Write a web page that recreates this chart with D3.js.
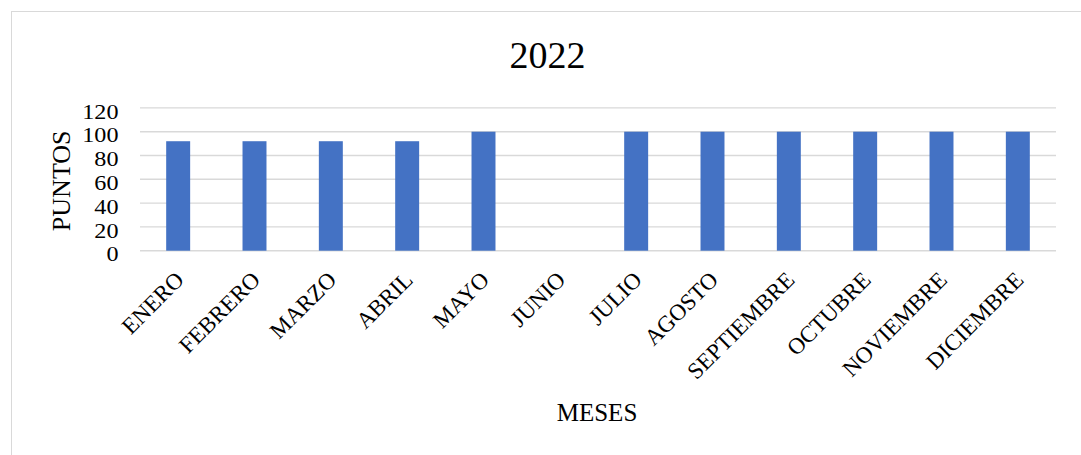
<!DOCTYPE html>
<html>
<head>
<meta charset="utf-8">
<script src="https://cdn.jsdelivr.net/npm/d3@7"></script>
<style>
  html, body { margin: 0; padding: 0; background: #fff; }
  svg { display: block; }
  text { font-family: "Times New Roman", "Liberation Serif", serif; fill: #000; }
</style>
</head>
<body>
<script>
// Monthly scores for 2022
const months = ["ENERO", "FEBRERO", "MARZO", "ABRIL", "MAYO", "JUNIO",
                "JULIO", "AGOSTO", "SEPTIEMBRE", "OCTUBRE", "NOVIEMBRE", "DICIEMBRE"];
const puntos = [92, 92, 92, 92, 100, 0, 100, 100, 100, 100, 100, 100];
const yTicks = [0, 20, 40, 60, 80, 100, 120];
const chartTitle = "2022";
const xTitle = "MESES";
const yTitle = "PUNTOS";

const W = 1081, H = 455;
const plot = { left: 140, right: 1056, top: 107.9, bottom: 250.7 };
const serif = '"Times New Roman", "Liberation Serif", serif';

const svg = d3.select("body").append("svg")
  .attr("width", W).attr("height", H);

// chart frame
svg.append("rect")
  .attr("x", 11.5).attr("y", 11.5)
  .attr("width", 1072).attr("height", 460)
  .attr("fill", "#fff").attr("stroke", "#d9d9d9").attr("stroke-width", 1);

const x = d3.scaleBand().domain(months)
  .range([plot.left, plot.right]).paddingInner(0.686).paddingOuter(0.343);
const y = d3.scaleLinear().domain([0, 120]).range([plot.bottom, plot.top]);

// horizontal gridlines
svg.append("g").selectAll("line").data(yTicks).join("line")
  .attr("x1", plot.left).attr("x2", plot.right)
  .attr("y1", d => y(d)).attr("y2", d => y(d))
  .attr("stroke", "#d9d9d9").attr("stroke-width", 1.4);

// y axis labels (slightly widened serif digits)
const yAxis = d3.axisLeft(y).tickValues(yTicks).tickSize(0).tickPadding(0);
const gy = svg.append("g").attr("transform", `translate(${plot.left - 21.5},0)`).call(yAxis);
gy.select(".domain").remove();
gy.selectAll(".tick text")
  .style("font-family", serif)
  .style("font-size", "21px").attr("fill", "#000")
  .attr("x", 0).attr("y", 3.5)
  .attr("text-anchor", "end")
  .attr("transform", "scale(1.15,1)");

// bars
svg.append("g").selectAll("rect").data(months).join("rect")
  .attr("x", d => x(d))
  .attr("width", x.bandwidth())
  .attr("y", (d, i) => y(puntos[i]))
  .attr("height", (d, i) => y(0) - y(puntos[i]))
  .attr("fill", "#4472c4");

// x axis labels, rotated
const xAxis = d3.axisBottom(x).tickSize(0).tickPadding(0);
const gx = svg.append("g").attr("transform", `translate(0,${plot.bottom})`).call(xAxis);
gx.select(".domain").remove();
gx.selectAll(".tick text")
  .style("font-family", serif)
  .style("font-size", "23px").attr("fill", "#000")
  .attr("text-anchor", "end")
  .attr("dy", null).attr("y", 0)
  .attr("transform", "translate(7,30.5) rotate(-45)");

// titles
svg.append("text").attr("x", 547.5).attr("y", 67.5)
  .attr("text-anchor", "middle").style("font-size", "38px").text(chartTitle);
svg.append("text").attr("x", 597).attr("y", 420.5)
  .attr("text-anchor", "middle").style("font-size", "25px").text(xTitle);
svg.append("text")
  .attr("transform", `translate(70,180.8) rotate(-90)`)
  .attr("text-anchor", "middle").style("font-size", "26px").text(yTitle);
</script>
</body>
</html>
